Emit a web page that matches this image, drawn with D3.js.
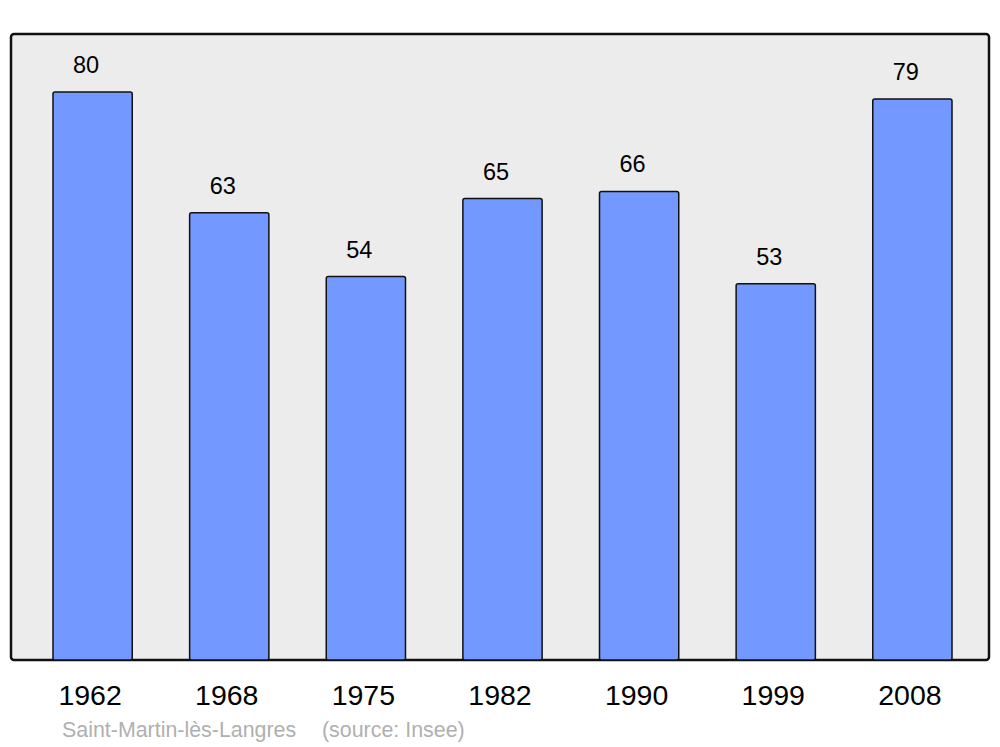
<!DOCTYPE html>
<html><head><meta charset="utf-8">
<script src="https://cdn.jsdelivr.net/npm/d3@7"></script>
<style>body{margin:0;background:#fff}svg{display:block;font-family:"Liberation Sans",Arial,sans-serif}</style>
</head><body><svg id="c" width="1000" height="747"></svg>
<script>
const years = ["1962","1968","1975","1982","1990","1999","2008"];
const values = [80,63,54,65,66,53,79];
const place = "Saint-Martin-lès-Langres";
const source = "(source: Insee)";

const svg = d3.select("#c");
const L=11, R=989, T=34, B=660;
const xb = d3.scaleBand().domain(years).range([53, 952]).paddingInner(0.42).paddingOuter(0);
const y = d3.scaleLinear().domain([0, 88.17]).range([B, T]);

svg.append("rect").attr("x",L).attr("y",T).attr("width",R-L).attr("height",B-T)
  .attr("rx",3).attr("fill","#ececec").attr("stroke","#111").attr("stroke-width",2.5);

svg.selectAll("rect.bar").data(values).join("rect").attr("class","bar")
  .attr("x",(d,i)=>xb(years[i]))
  .attr("width",xb.bandwidth())
  .attr("y",d=>y(d))
  .attr("height",d=>B-y(d))
  .attr("rx",2)
  .attr("fill","#7398ff").attr("stroke","#111").attr("stroke-width",1.5);

svg.selectAll("text.val").data(values).join("text").attr("class","val")
  .attr("x",(d,i)=>xb(years[i])+xb.bandwidth()/2-6.5)
  .attr("y",d=>y(d)-19)
  .attr("text-anchor","middle").attr("font-size",23.5).attr("fill","#000")
  .text(d=>d);

const ax = svg.append("g").attr("transform",`translate(-2.5,${B})`)
  .call(d3.axisBottom(xb).tickSize(0).tickPadding(0));
ax.select(".domain").remove();
ax.selectAll("text").attr("font-size",28.5).attr("fill","#000")
  .attr("font-family","Liberation Sans, Arial, sans-serif").attr("dy",null).attr("y",45);

svg.append("text").attr("x",62).attr("y",737).attr("font-size",21.4).attr("fill","#b0b0b0").text(place);
svg.append("text").attr("x",322).attr("y",737).attr("font-size",21.4).attr("fill","#b0b0b0").text(source);
</script></body></html>
